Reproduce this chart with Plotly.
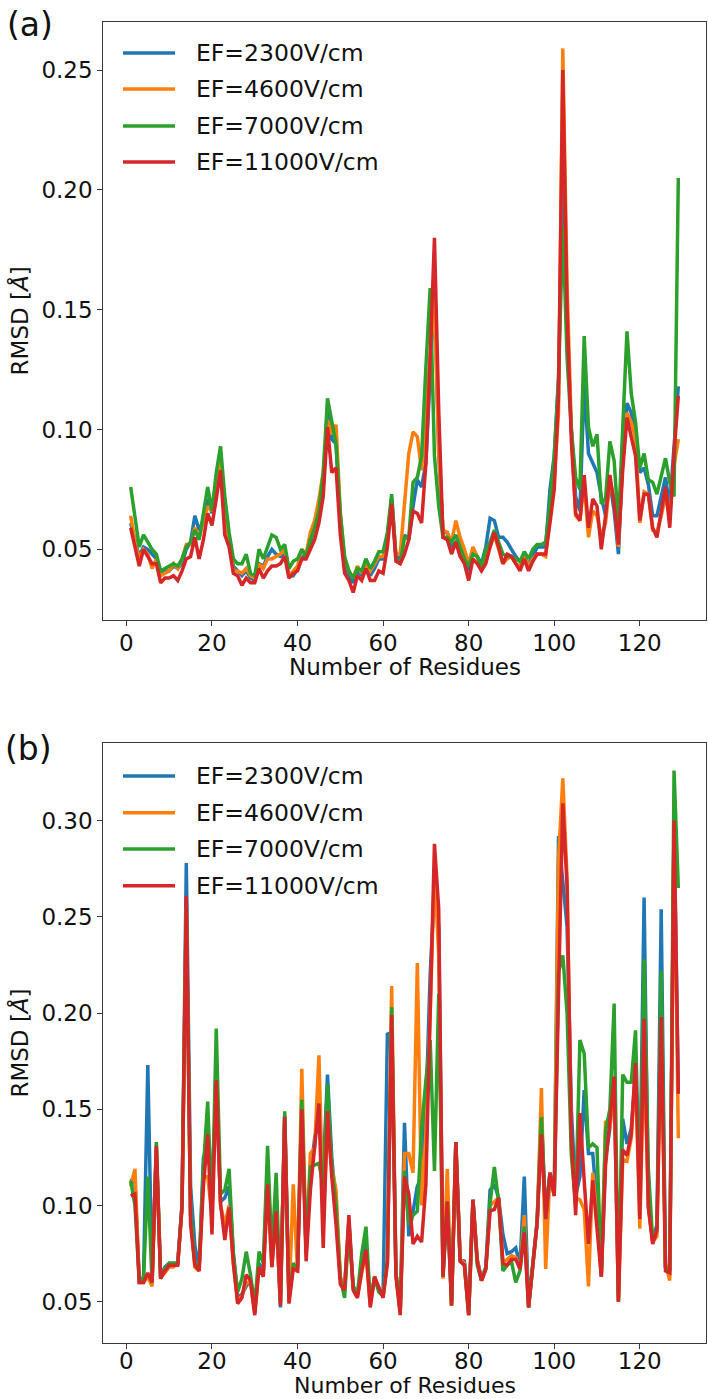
import plotly.graph_objects as go

W, H = 708, 1399

residues = list(range(1, 130))
labels = ["EF=2300V/cm", "EF=4600V/cm", "EF=7000V/cm", "EF=11000V/cm"]
colors = ["#1f77b4", "#ff7f0e", "#2ca02c", "#d62728"]

# ---------------- panel (a) ----------------
a_2300 = [0.061, 0.054, 0.047, 0.051, 0.050, 0.048, 0.046, 0.039, 0.041, 0.041,
          0.043, 0.042, 0.044, 0.050, 0.053, 0.064, 0.058, 0.062, 0.071, 0.065,
          0.076, 0.087, 0.066, 0.054, 0.043, 0.041, 0.039, 0.041, 0.038, 0.037,
          0.044, 0.043, 0.047, 0.050, 0.048, 0.047, 0.048, 0.039, 0.039, 0.042,
          0.047, 0.047, 0.053, 0.058, 0.065, 0.076, 0.107, 0.096, 0.094, 0.062,
          0.044, 0.039, 0.036, 0.041, 0.039, 0.046, 0.039, 0.042, 0.046, 0.046,
          0.054, 0.071, 0.047, 0.046, 0.056, 0.054, 0.068, 0.079, 0.076, 0.086,
          0.120, 0.160, 0.090, 0.057, 0.057, 0.051, 0.053, 0.050, 0.047, 0.041,
          0.050, 0.047, 0.044, 0.051, 0.063, 0.062, 0.055, 0.055, 0.053, 0.050,
          0.047, 0.045, 0.046, 0.044, 0.047, 0.051, 0.051, 0.051, 0.075, 0.089,
          0.121, 0.215, 0.145, 0.100, 0.072, 0.066, 0.119, 0.090, 0.086, 0.082,
          0.072, 0.064, 0.078, 0.066, 0.048, 0.089, 0.111, 0.107, 0.096, 0.082,
          0.084, 0.077, 0.064, 0.064, 0.072, 0.080, 0.068, 0.095, 0.118]
a_4600 = [0.064, 0.053, 0.046, 0.050, 0.048, 0.042, 0.046, 0.039, 0.040, 0.041,
          0.044, 0.042, 0.046, 0.052, 0.052, 0.059, 0.055, 0.062, 0.068, 0.066,
          0.079, 0.089, 0.066, 0.054, 0.041, 0.041, 0.040, 0.042, 0.039, 0.038,
          0.044, 0.042, 0.046, 0.046, 0.047, 0.048, 0.050, 0.039, 0.041, 0.043,
          0.050, 0.048, 0.057, 0.062, 0.071, 0.082, 0.104, 0.098, 0.102, 0.065,
          0.046, 0.041, 0.038, 0.043, 0.040, 0.044, 0.041, 0.044, 0.047, 0.047,
          0.055, 0.071, 0.048, 0.048, 0.068, 0.090, 0.099, 0.097, 0.083, 0.107,
          0.130, 0.155, 0.090, 0.058, 0.057, 0.053, 0.062, 0.055, 0.050, 0.044,
          0.051, 0.047, 0.041, 0.046, 0.051, 0.056, 0.050, 0.044, 0.046, 0.047,
          0.044, 0.043, 0.047, 0.043, 0.046, 0.048, 0.048, 0.047, 0.064, 0.079,
          0.107, 0.259, 0.160, 0.100, 0.064, 0.062, 0.078, 0.055, 0.066, 0.064,
          0.055, 0.061, 0.079, 0.071, 0.051, 0.086, 0.107, 0.103, 0.096, 0.061,
          0.074, 0.073, 0.058, 0.057, 0.064, 0.072, 0.064, 0.085, 0.096]
a_7000 = [0.076, 0.064, 0.051, 0.056, 0.053, 0.050, 0.048, 0.041, 0.042, 0.043,
          0.044, 0.043, 0.046, 0.051, 0.053, 0.058, 0.054, 0.065, 0.076, 0.066,
          0.082, 0.093, 0.072, 0.057, 0.046, 0.044, 0.044, 0.048, 0.040, 0.039,
          0.050, 0.046, 0.051, 0.056, 0.055, 0.050, 0.052, 0.042, 0.045, 0.046,
          0.050, 0.047, 0.054, 0.059, 0.066, 0.082, 0.113, 0.104, 0.094, 0.065,
          0.047, 0.041, 0.038, 0.042, 0.041, 0.046, 0.042, 0.045, 0.049, 0.049,
          0.057, 0.073, 0.046, 0.044, 0.055, 0.055, 0.078, 0.080, 0.089, 0.126,
          0.159, 0.089, 0.068, 0.055, 0.055, 0.053, 0.056, 0.051, 0.046, 0.043,
          0.048, 0.047, 0.043, 0.050, 0.053, 0.058, 0.053, 0.048, 0.047, 0.047,
          0.046, 0.045, 0.049, 0.046, 0.050, 0.052, 0.052, 0.053, 0.069, 0.089,
          0.121, 0.185, 0.130, 0.100, 0.080, 0.075, 0.139, 0.101, 0.093, 0.098,
          0.069, 0.071, 0.095, 0.087, 0.060, 0.100, 0.141, 0.115, 0.103, 0.084,
          0.090, 0.079, 0.078, 0.073, 0.080, 0.088, 0.078, 0.072, 0.205]
a_11000 = [0.059, 0.051, 0.043, 0.050, 0.047, 0.044, 0.044, 0.036, 0.038, 0.038,
           0.039, 0.037, 0.041, 0.046, 0.047, 0.055, 0.046, 0.054, 0.065, 0.060,
           0.071, 0.083, 0.056, 0.051, 0.040, 0.039, 0.035, 0.038, 0.036, 0.036,
           0.042, 0.038, 0.041, 0.043, 0.043, 0.044, 0.047, 0.038, 0.040, 0.041,
           0.046, 0.046, 0.050, 0.054, 0.061, 0.072, 0.101, 0.082, 0.084, 0.056,
           0.040, 0.037, 0.032, 0.039, 0.037, 0.042, 0.037, 0.037, 0.041, 0.040,
           0.051, 0.069, 0.045, 0.044, 0.048, 0.054, 0.066, 0.065, 0.061, 0.086,
           0.130, 0.180, 0.108, 0.055, 0.054, 0.048, 0.053, 0.047, 0.044, 0.037,
           0.046, 0.044, 0.041, 0.044, 0.051, 0.057, 0.051, 0.044, 0.048, 0.047,
           0.044, 0.041, 0.046, 0.041, 0.045, 0.048, 0.048, 0.048, 0.061, 0.075,
           0.114, 0.250, 0.150, 0.095, 0.065, 0.062, 0.081, 0.059, 0.071, 0.068,
           0.050, 0.064, 0.081, 0.069, 0.052, 0.083, 0.105, 0.097, 0.089, 0.062,
           0.073, 0.073, 0.059, 0.055, 0.066, 0.076, 0.059, 0.090, 0.114]

# ---------------- panel (b) ----------------
b_2300 = [0.114, 0.112, 0.062, 0.062, 0.173, 0.062, 0.130, 0.063, 0.068, 0.070,
          0.070, 0.070, 0.100, 0.278, 0.110, 0.079, 0.068, 0.125, 0.130, 0.110,
          0.160, 0.102, 0.104, 0.110, 0.075, 0.052, 0.054, 0.058, 0.061, 0.045,
          0.070, 0.066, 0.120, 0.072, 0.100, 0.047, 0.147, 0.051, 0.070, 0.067,
          0.155, 0.075, 0.115, 0.135, 0.145, 0.118, 0.168, 0.125, 0.100, 0.062,
          0.058, 0.092, 0.058, 0.054, 0.068, 0.080, 0.050, 0.062, 0.056, 0.055,
          0.189, 0.190, 0.065, 0.046, 0.143, 0.084, 0.097, 0.110, 0.115, 0.150,
          0.220, 0.265, 0.245, 0.065, 0.103, 0.050, 0.133, 0.072, 0.071, 0.046,
          0.103, 0.072, 0.062, 0.068, 0.108, 0.111, 0.104, 0.085, 0.075, 0.076,
          0.078, 0.069, 0.115, 0.048, 0.070, 0.092, 0.146, 0.095, 0.117, 0.106,
          0.292, 0.270, 0.245, 0.150, 0.105, 0.115, 0.160, 0.127, 0.127, 0.100,
          0.065, 0.125, 0.140, 0.165, 0.052, 0.145, 0.132, 0.140, 0.170, 0.110,
          0.260, 0.100, 0.082, 0.090, 0.254, 0.068, 0.066, 0.300, 0.160]
b_4600 = [0.110, 0.119, 0.060, 0.060, 0.063, 0.058, 0.128, 0.063, 0.065, 0.068,
          0.068, 0.070, 0.098, 0.255, 0.095, 0.068, 0.066, 0.115, 0.115, 0.095,
          0.170, 0.100, 0.090, 0.100, 0.070, 0.050, 0.053, 0.060, 0.060, 0.044,
          0.068, 0.064, 0.110, 0.068, 0.095, 0.049, 0.145, 0.050, 0.111, 0.065,
          0.171, 0.075, 0.127, 0.130, 0.178, 0.095, 0.140, 0.120, 0.108, 0.063,
          0.057, 0.090, 0.057, 0.053, 0.065, 0.076, 0.048, 0.063, 0.056, 0.053,
          0.070, 0.214, 0.065, 0.045, 0.127, 0.127, 0.117, 0.226, 0.100, 0.137,
          0.200, 0.275, 0.230, 0.062, 0.119, 0.048, 0.132, 0.072, 0.070, 0.043,
          0.102, 0.072, 0.061, 0.067, 0.100, 0.102, 0.104, 0.070, 0.072, 0.074,
          0.073, 0.067, 0.095, 0.047, 0.069, 0.091, 0.161, 0.067, 0.117, 0.105,
          0.280, 0.322, 0.270, 0.130, 0.104, 0.103, 0.098, 0.058, 0.117, 0.095,
          0.063, 0.144, 0.140, 0.167, 0.050, 0.124, 0.123, 0.135, 0.170, 0.088,
          0.180, 0.099, 0.081, 0.084, 0.190, 0.070, 0.061, 0.300, 0.135]
b_7000 = [0.113, 0.100, 0.061, 0.062, 0.115, 0.060, 0.133, 0.062, 0.067, 0.070,
          0.070, 0.070, 0.100, 0.255, 0.095, 0.070, 0.067, 0.120, 0.154, 0.095,
          0.192, 0.106, 0.108, 0.119, 0.075, 0.055, 0.062, 0.076, 0.064, 0.048,
          0.076, 0.070, 0.131, 0.075, 0.117, 0.050, 0.149, 0.052, 0.069, 0.068,
          0.155, 0.078, 0.120, 0.121, 0.122, 0.110, 0.163, 0.120, 0.100, 0.062,
          0.052, 0.088, 0.058, 0.054, 0.075, 0.089, 0.050, 0.063, 0.055, 0.053,
          0.072, 0.203, 0.065, 0.045, 0.118, 0.090, 0.095, 0.097, 0.140, 0.165,
          0.186, 0.118, 0.210, 0.063, 0.102, 0.048, 0.133, 0.071, 0.069, 0.043,
          0.103, 0.069, 0.061, 0.067, 0.101, 0.120, 0.102, 0.066, 0.069, 0.071,
          0.060, 0.066, 0.089, 0.047, 0.069, 0.091, 0.146, 0.093, 0.117, 0.105,
          0.221, 0.230, 0.200, 0.126, 0.100, 0.186, 0.179, 0.130, 0.132, 0.130,
          0.063, 0.139, 0.150, 0.205, 0.050, 0.168, 0.164, 0.164, 0.191, 0.100,
          0.228, 0.119, 0.082, 0.088, 0.222, 0.068, 0.066, 0.326, 0.265]
b_11000 = [0.105, 0.106, 0.060, 0.060, 0.065, 0.060, 0.131, 0.062, 0.066, 0.069,
           0.069, 0.069, 0.100, 0.261, 0.090, 0.069, 0.066, 0.110, 0.137, 0.085,
           0.165, 0.101, 0.082, 0.099, 0.070, 0.049, 0.052, 0.064, 0.061, 0.043,
           0.068, 0.063, 0.111, 0.068, 0.097, 0.048, 0.146, 0.049, 0.067, 0.066,
           0.150, 0.071, 0.108, 0.129, 0.153, 0.078, 0.149, 0.115, 0.090, 0.059,
           0.056, 0.095, 0.056, 0.052, 0.066, 0.077, 0.047, 0.063, 0.057, 0.052,
           0.070, 0.199, 0.063, 0.043, 0.115, 0.106, 0.080, 0.084, 0.081, 0.111,
           0.200, 0.288, 0.254, 0.063, 0.102, 0.048, 0.133, 0.071, 0.069, 0.043,
           0.103, 0.071, 0.061, 0.067, 0.097, 0.098, 0.104, 0.070, 0.069, 0.072,
           0.072, 0.067, 0.086, 0.047, 0.069, 0.091, 0.137, 0.093, 0.117, 0.105,
           0.210, 0.309, 0.266, 0.136, 0.095, 0.148, 0.113, 0.080, 0.113, 0.089,
           0.063, 0.121, 0.143, 0.167, 0.050, 0.129, 0.126, 0.137, 0.174, 0.093,
           0.197, 0.099, 0.080, 0.087, 0.198, 0.066, 0.065, 0.300, 0.158]

x_ticks = [0, 20, 40, 60, 80, 100, 120]
a_y_ticks = [0.05, 0.10, 0.15, 0.20, 0.25]
b_y_ticks = [0.05, 0.10, 0.15, 0.20, 0.25, 0.30]

x_title = "Number of Residues"
y_title = "RMSD [<i>Å</i>]"

panels = [
    ("x", "y", [a_2300, a_4600, a_7000, a_11000]),
    ("x2", "y2", [b_2300, b_4600, b_7000, b_11000]),
]

FONT = "DejaVu Sans"

fig = go.Figure()
for xa, ya, series_list in panels:
    for vals, name, col in zip(series_list, labels, colors):
        fig.add_trace(go.Scatter(
            x=residues, y=vals, mode="lines", name=name,
            line=dict(color=col, width=3.5),
            xaxis=xa, yaxis=ya, showlegend=False,
        ))


def px(x):
    return x / W


def py(y):
    return 1 - y / H


axis_common = dict(
    showline=True, linecolor="#3a3a3a", linewidth=1.2, mirror=True,
    ticks="outside", ticklen=5, tickwidth=1.2, tickcolor="#3a3a3a",
    showgrid=False, zeroline=False, automargin=False,
    tickfont=dict(family=FONT, size=23, color="#111"),
)
title_font = dict(family=FONT, size=23, color="#111")

fig.update_layout(
    width=W, height=H,
    margin=dict(l=0, r=0, t=0, b=0),
    paper_bgcolor="white", plot_bgcolor="white",
    xaxis=dict(domain=[px(103.3), px(705.7)], anchor="y", range=[-5.4, 135.4],
               tickvals=x_ticks, ticklabelstandoff=-3, **axis_common),
    yaxis=dict(domain=[py(620), py(21.7)], anchor="x", range=[0.0205, 0.2702],
               tickvals=a_y_ticks, tickformat=".2f",
               title=dict(text=y_title, font=title_font, standoff=6),
               **axis_common),
    xaxis2=dict(domain=[px(103.3), px(705.7)], anchor="y2", range=[-5.4, 135.4],
                tickvals=x_ticks, ticklabelstandoff=-7, **axis_common),
    yaxis2=dict(domain=[py(1342.7), py(743.3)], anchor="x2", range=[0.0287, 0.3402],
                tickvals=b_y_ticks, tickformat=".2f",
                title=dict(text=y_title, font=title_font, standoff=6),
                **axis_common),
)

# x-axis titles (placed explicitly below each panel's tick labels)
fig.add_annotation(x=px(404.5), y=py(667), xref="paper", yref="paper",
                   text=x_title, showarrow=False, xanchor="center", yanchor="middle",
                   font=title_font)
fig.add_annotation(x=px(404.5), y=0, xref="paper", yref="paper",
                   text=x_title, showarrow=False, xanchor="center", yanchor="bottom",
                   borderpad=0, font=dict(family=FONT, size=22, color="#111"))

# panel labels
fig.add_annotation(x=px(30), y=py(24), xref="paper", yref="paper", text="(a)",
                   showarrow=False, font=dict(family=FONT, size=33, color="#111"),
                   xanchor="center", yanchor="middle")
fig.add_annotation(x=px(28), y=py(748), xref="paper", yref="paper", text="(b)",
                   showarrow=False, font=dict(family=FONT, size=33, color="#111"),
                   xanchor="center", yanchor="middle")

# legends (drawn in each panel's upper-left corner)
legend_rows = [[53, 89, 126, 162], [776, 812.7, 849, 885.7]]
for rows in legend_rows:
    for yrow, name, col in zip(rows, labels, colors):
        fig.add_shape(type="line", xref="paper", yref="paper",
                      x0=px(123), x1=px(175), y0=py(yrow), y1=py(yrow),
                      line=dict(color=col, width=3.5))
        fig.add_annotation(x=px(194), y=py(yrow), xref="paper", yref="paper",
                           text=name, showarrow=False, xanchor="left", yanchor="middle",
                           font=dict(family=FONT, size=23.5, color="#111"))

fig.write_html("out.html")
